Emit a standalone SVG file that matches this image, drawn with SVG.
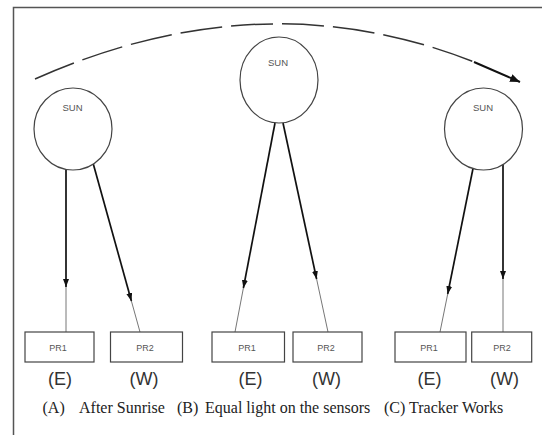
<svg xmlns="http://www.w3.org/2000/svg" width="542" height="435" viewBox="0 0 542 435">
<style>
.sun{fill:#fff;stroke:#444;stroke-width:1.2}
.box{fill:#fff;stroke:#444;stroke-width:1.2}
.st{font-family:"Liberation Sans",Arial,sans-serif;font-size:9.5px;fill:#555;text-anchor:middle}
.pr{font-family:"Liberation Sans",Arial,sans-serif;font-size:9px;fill:#555;text-anchor:middle}
.dir{font-family:"Liberation Sans",Arial,sans-serif;font-size:18px;fill:#333;text-anchor:middle}
.cap{font-family:"Liberation Serif","Times New Roman",serif;font-size:16px;fill:#222}
.ray{stroke:#111;stroke-width:1.7;fill:none}
.tail{stroke:#777;stroke-width:1;fill:none}
</style>
<defs>
<marker id="ah" markerUnits="userSpaceOnUse" markerWidth="8" markerHeight="6" refX="8" refY="3" orient="auto">
<path d="M0,0 L8,3 L0,6 z" fill="#111"/>
</marker>
<marker id="ah2" markerUnits="userSpaceOnUse" markerWidth="10" markerHeight="8" refX="10" refY="4" orient="auto">
<path d="M0,0 L10,4 L0,8 z" fill="#111"/>
</marker>
</defs>
<rect width="542" height="435" fill="#fff"/>
<g id="frame" stroke="#555" stroke-width="1.5" fill="none">
<path d="M13.5,435 L13.5,7.5 L542,7.5"/>
</g>
<g id="connectors">
<path d="M35,79 Q262,-22 474,62" stroke="#333" stroke-width="1.5" fill="none" stroke-dasharray="42 9"/>
<path d="M474,62 L520,82" stroke="#111" stroke-width="2" fill="none" marker-end="url(#ah2)"/>
<line class="ray" x1="66" y1="169" x2="66" y2="287" marker-end="url(#ah)"/>
<line class="tail" x1="66" y1="287" x2="66" y2="332"/>
<line class="ray" x1="93.3" y1="164" x2="131.4" y2="301" marker-end="url(#ah)"/>
<line class="tail" x1="131.4" y1="301" x2="140" y2="332"/>
<line class="ray" x1="275" y1="123" x2="243.4" y2="288" marker-end="url(#ah)"/>
<line class="tail" x1="243.4" y1="288" x2="235" y2="332"/>
<line class="ray" x1="283" y1="123" x2="316.6" y2="279" marker-end="url(#ah)"/>
<line class="tail" x1="316.6" y1="279" x2="328" y2="332"/>
<line class="ray" x1="473" y1="168.5" x2="447.7" y2="294" marker-end="url(#ah)"/>
<line class="tail" x1="447.7" y1="294" x2="440" y2="332"/>
<line class="ray" x1="503" y1="164.5" x2="503" y2="279" marker-end="url(#ah)"/>
<line class="tail" x1="503" y1="279" x2="503" y2="332"/>
</g>
<g id="sunA"><ellipse class="sun" cx="73" cy="129" rx="39" ry="41"/><text class="st" x="72.5" y="111">SUN</text></g>
<g id="sunB"><ellipse class="sun" cx="279" cy="80" rx="39" ry="43"/><text class="st" x="278" y="66">SUN</text></g>
<g id="sunC"><ellipse class="sun" cx="483.5" cy="129" rx="39" ry="41"/><text class="st" x="483" y="111">SUN</text></g>
<g id="prA1"><rect class="box" x="25" y="332" width="69" height="30"/><text class="pr" x="58" y="351">PR1</text><text class="dir" x="60" y="385">(E)</text></g>
<g id="prA2"><rect class="box" x="110.5" y="332" width="72" height="30"/><text class="pr" x="145" y="351">PR2</text><text class="dir" x="144" y="385">(W)</text></g>
<g id="prB1"><rect class="box" x="212" y="332" width="72.5" height="30"/><text class="pr" x="247" y="351">PR1</text><text class="dir" x="250.5" y="385">(E)</text></g>
<g id="prB2"><rect class="box" x="293" y="332" width="69" height="30"/><text class="pr" x="326" y="351">PR2</text><text class="dir" x="326.5" y="385">(W)</text></g>
<g id="prC1"><rect class="box" x="395" y="332" width="71" height="30"/><text class="pr" x="429" y="351">PR1</text><text class="dir" x="429.5" y="385">(E)</text></g>
<g id="prC2"><rect class="box" x="471.7" y="332" width="60" height="30"/><text class="pr" x="502" y="351">PR2</text><text class="dir" x="504.5" y="385">(W)</text></g>
<g id="caption">
<text class="cap" y="413"><tspan x="42.5">(A)</tspan><tspan x="79">After Sunrise</tspan><tspan x="177">(B)</tspan><tspan x="205">Equal light on the sensors</tspan><tspan x="384">(C)</tspan><tspan x="409">Tracker Works</tspan></text>
</g>
</svg>
